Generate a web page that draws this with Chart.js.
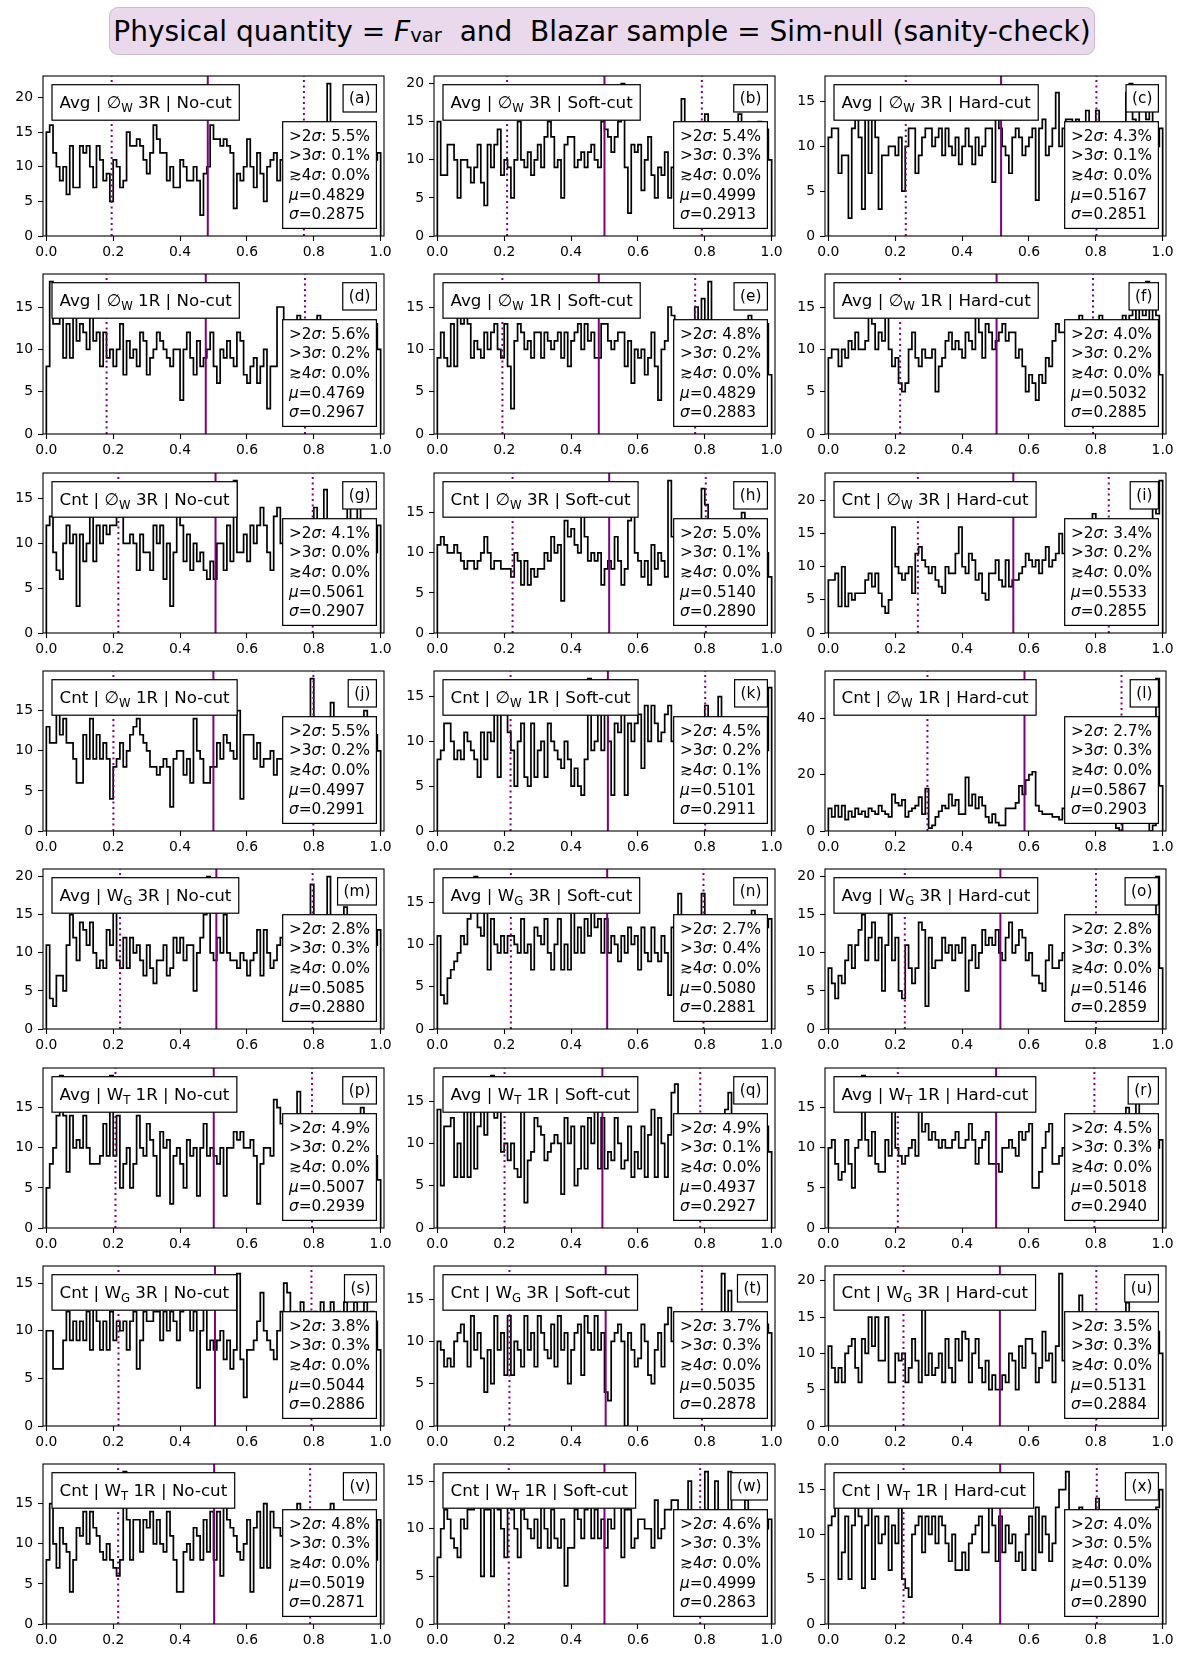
<!DOCTYPE html>
<html>
<head>
<meta charset="utf-8">
<title>Fvar sanity check</title>
<script src="https://cdn.jsdelivr.net/npm/chart.js@4.4.1/dist/chart.umd.min.js"></script>
<style>
  body { margin: 0; background: #fff; width: 1200px; height: 1662px; position: relative; overflow: hidden; font-family: "DejaVu Sans", sans-serif; }
  #title { position: absolute; left: 109px; top: 7px; width: 986px; height: 48px; box-sizing: border-box;
           background: #ead9ec; border: 1.5px solid #cfb9d5; border-radius: 9px;
           display: flex; align-items: center; justify-content: center; font-size: 28px; color: #000; white-space: pre; }
  #title .sub { font-size: 0.7em; position: relative; top: 0.25em; }
  canvas { position: absolute; }
</style>
</head>
<body>
<div id="title">Physical quantity = <i>F</i><span class="sub">var</span>  and  Blazar sample = Sim-null (sanity-check)</div>
<script>
'use strict';

/* =========== Panel texts ================= */
var panelIds = ['a','b','c','d','e','f','g','h','i','j','k','l','m','n','o','p','q','r','s','t','u','v','w','x'];
var rowMethod = ['Avg','Avg','Cnt','Cnt','Avg','Avg','Cnt','Cnt'];
var rowWeight = ['∅','∅','∅','∅','W','W','W','W'];
var rowWeightSub = ['W','W','W','W','G','T','G','T'];
var rowRing = ['3R','1R','3R','1R','3R','1R','3R','1R'];
var colCut = ['No-cut','Soft-cut','Hard-cut'];
var xTickValues = [0, 0.2, 0.4, 0.6, 0.8, 1.0];

/* =========== Stats per panel (a..x) ================= */
var over2 = [5.5,5.4,4.3, 5.6,4.8,4.0, 4.1,5.0,3.4, 5.5,4.5,2.7, 2.8,2.7,2.8, 4.9,4.9,4.5, 3.8,3.7,3.5, 4.8,4.6,4.0];
var over3 = [0.1,0.3,0.1, 0.2,0.2,0.2, 0.0,0.1,0.2, 0.2,0.2,0.3, 0.3,0.4,0.3, 0.2,0.1,0.3, 0.3,0.3,0.3, 0.3,0.3,0.5];
var over4 = [0.0,0.0,0.0, 0.0,0.0,0.0, 0.0,0.0,0.0, 0.0,0.1,0.0, 0.0,0.0,0.0, 0.0,0.0,0.0, 0.0,0.0,0.0, 0.0,0.0,0.0];
var muVals = [0.4829,0.4999,0.5167, 0.4769,0.4829,0.5032, 0.5061,0.5140,0.5533, 0.4997,0.5101,0.5867,
              0.5085,0.5080,0.5146, 0.5007,0.4937,0.5018, 0.5044,0.5035,0.5131, 0.5019,0.4999,0.5139];
var sigmaVals = [0.2875,0.2913,0.2851, 0.2967,0.2883,0.2885, 0.2907,0.2890,0.2855, 0.2991,0.2911,0.2903,
                 0.2880,0.2881,0.2859, 0.2939,0.2927,0.2940, 0.2886,0.2878,0.2884, 0.2871,0.2863,0.2890];

/* =========== Histogram counts, 100 bins on [0,1] ================= */
var histA = [15,16,12,10,8,10,6,13,7,7, 13,12,13,10,7,13,11,8,9,5, 11,10,7,8,15,13,13,14,13,11, 9,12,16,14,12,12,8,10,7,7,
             11,10,8,8,10,8,3,9,10,16, 14,14,13,14,13,12,4,9,8,10, 14,10,7,12,9,5,10,11,12,8, 11,12,9,10,11,13,10,9,10,11,
             12,9,10,13,22,11,10,12,9,11, 13,10,12,9,11,10,12,9,11,12];
var histB = [15,8,8,12,12,10,5,10,10,9, 7,9,12,7,4,12,9,12,14,8, 10,9,5,10,15,10,9,11,8,10, 12,9,13,15,13,9,10,5,12,13,
             13,9,10,11,9,11,12,10,9,15, 14,13,11,13,15,20,9,3,12,11, 12,6,10,13,8,5,9,8,11,5, 9,7,13,18,12,10,9,11,8,10,
             16,11,9,12,10,8,13,11,10,12, 16,9,12,11,10,13,15,11,14,10];
var histC = [11,12,12,7,9,9,2,12,13,11, 3,15,7,13,11,3,9,9,10,10, 9,11,5,10,12,12,7,9,11,12, 12,10,11,12,9,12,10,9,11,8,
             10,12,10,8,11,9,10,12,12,6, 13,12,10,9,7,11,12,11,9,10, 11,12,4,12,13,9,10,12,16,10, 12,13,13,12,13,10,11,14,10,9,
             14,11,10,12,9,11,10,12,11,16, 17,13,12,14,16,13,15,12,10,12];
var histD = [8,18,13,13,14,9,13,9,14,11, 13,12,10,14,11,12,8,12,9,10, 8,10,13,7,11,9,10,8,12,11, 7,9,10,12,11,10,9,8,10,10,
             4,10,12,9,7,11,8,9,10,12, 8,6,10,9,11,9,8,12,11,7, 6,8,9,6,8,10,3,8,8,15, 15,12,10,11,13,14,10,12,9,11,
             13,14,11,10,12,9,12,13,10,11, 9,12,11,13,10,8,12,11,13,10];
var histE = [9,12,9,8,13,8,14,13,15,13, 9,11,10,9,12,10,12,13,10,9, 13,8,3,11,13,12,10,11,9,12, 12,9,12,11,10,11,12,9,12,8,
             11,12,13,10,13,11,12,9,9,13, 13,11,10,11,12,12,8,11,6,10, 9,10,7,9,12,8,4,10,11,15, 14,12,11,10,13,12,11,15,10,16,
             12,18,11,13,10,12,11,9,13,12, 10,12,11,14,10,12,9,11,13,7];
var histF = [9,10,10,8,10,9,11,10,12,10, 10,11,15,13,10,12,11,15,10,8, 9,6,5,6,10,12,9,8,10,9, 9,10,5,8,9,11,12,10,11,10,
             9,12,11,10,14,12,9,13,12,10, 11,12,13,11,12,12,9,10,8,5, 7,6,4,7,6,9,8,11,13,12, 12,11,13,12,10,14,11,12,13,10,
             12,14,11,13,12,10,13,12,14,11, 14,15,13,15,14,18,13,15,14,7];
var histG = [12,13,9,7,6,10,12,10,11,3, 11,8,10,13,8,12,10,12,11,12, 12,13,13,10,10,11,10,7,11,9, 9,7,12,10,12,6,10,3,9,13,
             12,8,11,7,10,8,9,7,6,8, 6,10,10,7,12,8,17,9,9,11, 8,12,10,12,14,12,9,7,13,14, 10,9,11,8,11,10,9,11,10,11,
             14,11,10,16,11,9,11,10,11,9, 15,11,10,14,11,9,11,10,9,12];
var histH = [11,12,11,10,10,11,10,9,8,9, 9,8,9,10,12,10,8,9,9,8, 8,8,7,10,9,6,9,6,8,7, 8,8,10,9,12,10,11,4,14,12,
             13,11,10,15,12,9,10,9,10,6, 8,9,8,12,9,6,8,14,16,10, 9,7,9,6,11,8,10,9,7,19, 12,10,11,9,12,11,10,13,9,18,
             16,12,10,11,9,13,12,10,11,12, 13,15,11,10,12,9,11,13,10,7];
var histI = [8,8,9,4,10,4,6,5,6,6, 6,8,9,7,9,6,4,3,5,16, 10,9,8,9,10,6,12,13,11,10, 9,10,8,7,6,10,9,9,12,16,
             10,9,12,11,8,9,6,5,9,9, 11,8,7,11,7,8,8,9,10,12, 11,10,11,9,11,13,10,11,12,15, 12,11,13,10,14,12,11,13,12,18,
             13,12,11,14,12,13,11,12,14,13, 12,14,13,12,15,13,14,20,18,23];
var histJ = [13,11,11,15,12,14,11,11,9,6, 6,12,9,14,9,12,9,11,9,4, 8,9,11,8,10,12,13,14,12,11, 10,8,8,7,8,9,8,3,9,10,
             10,7,9,6,14,10,9,6,6,8, 8,11,9,12,11,10,9,15,4,12, 12,12,9,11,8,9,9,10,7,9, 9,11,8,10,12,9,11,10,8,19,
             10,12,9,11,12,16,10,9,11,12, 10,11,9,12,10,15,11,9,12,10];
var histK = [8,9,12,12,10,8,9,8,11,10, 9,8,6,11,8,11,10,13,6,14, 13,11,9,5,10,12,6,5,12,6, 9,10,6,12,10,9,8,7,10,8,
             5,7,5,4,8,17,9,10,13,9, 13,10,4,12,11,14,4,12,10,12, 13,7,14,10,14,12,10,11,13,14, 10,11,9,11,10,11,9,11,10,11,
             14,10,11,9,15,11,10,11,9,11, 10,11,11,9,11,10,11,11,9,16];
var histL = [8,5,9,5,9,4,7,5,8,6, 7,5,8,7,6,9,7,6,5,13, 10,9,11,5,7,8,9,12,6,15, 1,2,5,7,9,8,13,9,11,6,
             6,19,9,13,8,12,9,5,3,6, 3,2,2,8,8,8,10,16,13,18, 20,21,9,7,6,6,6,5,5,4, 8,7,9,8,6,7,8,9,7,8,
             6,7,8,9,7,6,1,0,6,9, 7,8,6,5,6,3,0,2,54,16];
var histM = [11,4,3,7,7,5,11,15,12,9, 14,13,11,14,10,8,9,8,13,11, 16,9,8,12,8,12,10,11,9,7, 11,8,6,9,9,11,7,8,12,10,
             12,9,11,11,5,10,12,15,20,10, 9,12,10,15,10,9,9,8,10,9, 7,9,10,13,7,13,10,8,9,11, 12,10,11,13,12,10,11,12,14,19,
             12,13,11,10,20,12,11,13,12,16, 13,12,11,14,12,10,13,12,11,13];
var histN = [11,4,3,6,7,8,9,11,10,13, 14,18,12,11,14,7,13,10,9,11, 9,11,11,10,9,13,9,10,7,12, 11,10,13,9,7,10,13,7,10,7,
             15,9,12,9,13,11,15,12,13,9, 13,9,11,10,8,11,9,12,10,11, 7,12,9,8,12,9,8,11,9,4, 12,10,16,11,12,13,10,12,11,16,
             12,10,13,11,12,10,13,11,12,10, 11,10,12,11,14,12,10,11,12,13];
var histO = [8,6,4,7,6,9,11,8,11,13, 15,9,12,14,9,12,5,11,15,9, 12,5,4,11,8,6,8,14,13,3, 12,8,9,9,12,10,11,9,11,10,
             12,5,9,11,8,10,13,11,12,11, 13,10,9,12,14,10,11,13,12,9, 10,7,7,6,5,9,11,8,8,9, 10,12,11,13,10,12,11,13,12,10,
             12,11,10,13,12,11,10,12,11,13, 12,10,11,12,13,11,12,10,20,8];
var histP = [5,8,10,14,19,14,7,14,10,11, 10,14,10,8,8,8,9,13,9,19, 9,14,5,8,10,5,8,14,10,9, 13,11,9,4,12,10,11,3,9,10,
             8,5,11,9,10,4,10,13,9,10, 9,8,10,4,10,10,12,11,12,10, 10,11,9,3,8,10,10,9,16,15, 13,12,11,10,12,17,11,12,10,13,
             11,12,10,13,12,11,10,12,11,13, 12,11,10,12,15,11,12,10,9,6];
var histQ = [14,5,12,12,13,6,10,6,15,6, 14,7,12,14,11,14,18,13,14,9, 10,8,10,7,6,14,3,8,9,13, 12,11,8,9,10,11,10,4,13,10,
             12,5,7,12,7,13,10,15,7,13, 7,9,8,13,10,7,8,12,6,9, 7,12,6,11,14,6,13,10,6,11, 16,17,12,11,10,12,13,11,13,10,
             12,11,13,10,12,11,14,16,12,11, 13,10,12,11,13,12,10,11,12,9];
var histR = [10,11,8,6,7,11,8,5,10,11, 19,11,9,12,8,7,7,11,9,15, 10,9,8,9,10,11,9,15,12,13, 11,12,11,10,11,10,10,11,12,10,
             10,11,13,11,8,10,11,12,8,8, 8,7,10,10,11,10,9,12,11,12, 13,5,5,7,10,12,13,8,8,9, 10,11,12,10,13,11,12,10,11,12,
             11,13,10,12,11,10,12,11,13,15, 12,14,16,13,12,11,13,12,10,11];
var histS = [10,10,6,6,6,9,12,9,11,9, 11,9,12,8,13,11,8,11,8,12, 9,11,10,11,8,11,12,6,9,12, 11,11,12,12,9,12,10,12,11,9,
             12,13,13,10,12,4,10,14,8,9, 8,9,10,7,9,6,8,16,7,3, 8,8,9,11,14,10,9,8,7,10, 12,15,14,11,12,10,13,11,12,10,
             12,11,13,10,12,13,11,12,10,13, 11,12,13,11,12,13,10,12,11,8];
var histT = [10,9,7,8,7,10,11,12,10,7, 13,9,11,8,4,9,5,13,9,11, 6,13,6,10,9,7,13,9,11,7, 13,11,9,8,12,7,13,9,11,5,
             9,11,12,6,13,11,9,13,9,11, 4,3,10,11,12,10,0,11,9,7, 8,12,10,6,5,9,11,7,12,14, 10,12,11,13,12,11,10,12,13,11,
             13,12,11,10,12,18,13,16,12,11, 13,10,12,11,13,12,11,10,12,11];
var histU = [11,8,6,8,6,10,11,12,8,6, 12,10,15,11,15,9,9,15,6,6, 10,9,10,6,8,12,9,6,20,7, 10,7,8,10,6,12,8,6,12,9,
             13,12,6,10,12,8,6,9,5,7, 5,5,7,6,10,9,5,11,8,12, 12,10,6,8,13,9,10,6,11,21, 9,12,11,13,12,18,11,12,13,10,
             12,11,13,12,10,13,11,12,10,17, 12,13,11,12,13,10,12,11,13,10];
var histV = [8,15,10,7,12,10,9,4,8,12, 11,14,10,14,12,11,9,8,10,8, 7,6,8,19,13,8,13,13,9,13, 12,14,10,13,10,9,14,11,8,4,
             4,9,10,8,12,11,8,13,9,14, 8,14,6,15,13,12,11,9,8,10, 13,4,12,14,7,15,7,14,12,12, 11,6,10,12,11,15,10,12,11,13,
             12,10,11,13,12,15,11,10,12,13, 11,12,10,13,11,12,10,11,8,13];
var histW = [7,10,12,11,9,8,7,11,10,12, 12,14,13,5,12,12,5,13,12,10, 7,13,12,10,7,12,11,10,9,11, 8,13,10,8,12,9,8,11,4,8,
             8,12,11,9,12,13,9,12,9,11, 8,11,10,14,13,7,12,12,8,9, 11,11,10,10,8,13,9,10,12,12, 13,13,11,10,9,15,11,10,8,11,
             16,10,9,15,11,10,9,16,10,11, 9,11,13,10,11,9,10,11,10,11];
var histX = [11,12,13,5,8,12,5,11,13,12, 4,11,13,5,12,9,10,12,6,11, 9,13,5,4,3,10,11,12,8,12, 10,12,9,12,11,9,7,10,6,6,
             8,6,9,10,11,12,8,8,13,11, 7,12,8,11,9,10,7,8,6,10, 12,6,13,8,12,10,7,9,13,15, 15,17,11,10,12,13,10,11,9,12,
             14,10,11,9,12,10,11,9,12,10, 11,10,12,9,11,10,12,11,13,15];
var hists = [histA,histB,histC,histD,histE,histF,histG,histH,histI,histJ,histK,histL,
             histM,histN,histO,histP,histQ,histR,histS,histT,histU,histV,histW,histX];

/* =========== Layout ================= */
var colSpineLeft = [43, 434, 825];
var firstRowTop = 76, rowStep = 198.3;
var axW = 341, axH = 160;
var padL = 44, padT = 14, padR = 14, padB = 30;
var purple = '#800080';
var FONT = '"DejaVu Sans", sans-serif';

Chart.defaults.font.family = FONT;
Chart.defaults.color = '#000';

function partsWidth(ctx, parts, size) {
	var w = 0;
	parts.forEach(function (p) {
		ctx.font = (p.it ? 'italic ' : '') + (p.sub ? size * 0.7 : size) + 'px ' + FONT;
		w += ctx.measureText(p.t).width;
	});
	return w;
}

function drawParts(ctx, parts, x, y, size) {
	parts.forEach(function (p) {
		var s = p.sub ? size * 0.7 : size;
		ctx.font = (p.it ? 'italic ' : '') + s + 'px ' + FONT;
		ctx.fillText(p.t, x, y + (p.sub ? size * 0.22 : 0));
		x += ctx.measureText(p.t).width;
	});
}

function box(ctx, x, y, w, h) {
	ctx.fillStyle = '#fff';
	ctx.fillRect(x, y, w, h);
	ctx.strokeStyle = '#000';
	ctx.lineWidth = 1.2;
	ctx.strokeRect(x, y, w, h);
	ctx.fillStyle = '#000';
}

/* =========== Frame + text boxes drawn over each panel ================= */
function decorPlugin(idx) {
	var row = Math.floor(idx / 3), col = idx % 3;
	return {
		id: 'decor' + idx,
		afterDraw: function (chart) {
			var ctx = chart.ctx, a = chart.chartArea;
			ctx.save();
			ctx.strokeStyle = '#000';
			ctx.lineWidth = 1.1;
			ctx.strokeRect(a.left, a.top, a.right - a.left, a.bottom - a.top);
			ctx.textBaseline = 'alphabetic';
			ctx.textAlign = 'left';

			// label box, top left
			var lsz = 16.7;
			var lparts = [{t: rowMethod[row] + ' | ' + rowWeight[row]}, {t: rowWeightSub[row], sub: true},
			              {t: ' ' + rowRing[row] + ' | ' + colCut[col]}];
			var lw = partsWidth(ctx, lparts, lsz) + 15, lh = 35.5;
			var lx = a.left + 9, ly = a.top + 8.7;
			box(ctx, lx, ly, lw, lh);
			drawParts(ctx, lparts, lx + 7.5, ly + lh / 2 + lsz * 0.33, lsz);

			// panel letter, top right
			var psz = 15.3;
			var ptxt = [{t: '(' + panelIds[idx] + ')'}];
			var pw = partsWidth(ctx, ptxt, psz) + 12, ph = 27.3;
			var px = a.right - 7.6 - pw, py = a.top + 8.7;
			box(ctx, px, py, pw, ph);
			drawParts(ctx, ptxt, px + 6, py + ph / 2 + psz * 0.33, psz);

			// stats box, bottom right
			var ssz = 15.3;
			var lines = [
				[{t: '>2'}, {t: 'σ', it: true}, {t: ': ' + over2[idx].toFixed(1) + '%'}],
				[{t: '>3'}, {t: 'σ', it: true}, {t: ': ' + over3[idx].toFixed(1) + '%'}],
				[{t: '≳4'}, {t: 'σ', it: true}, {t: ': ' + over4[idx].toFixed(1) + '%'}],
				[{t: 'μ', it: true}, {t: '=' + muVals[idx].toFixed(4)}],
				[{t: 'σ', it: true}, {t: '=' + sigmaVals[idx].toFixed(4)}]
			];
			var sw = 0;
			lines.forEach(function (l) { sw = Math.max(sw, partsWidth(ctx, l, ssz)); });
			sw += 12.6;
			var sh = 106.7;
			var sx = a.right - 7.6 - sw, sy = a.bottom - 7.6 - sh;
			box(ctx, sx, sy, sw, sh);
			lines.forEach(function (l, k) {
				drawParts(ctx, l, sx + 6.3, sy + 13.5 + k * 19.6 + ssz * 0.36, ssz);
			});
			ctx.restore();
		}
	};
}

/* =========== Build the 24 histograms ================= */
panelIds.forEach(function (pid, idx) {
	var row = Math.floor(idx / 3), col = idx % 3;
	var counts = hists[idx];
	var yTop = Math.max.apply(null, counts) * 1.05;
	var yStep = yTop > 40 ? 20 : 5;

	var canvas = document.createElement('canvas');
	canvas.width = padL + axW + padR;
	canvas.height = padT + axH + padB;
	canvas.style.left = (colSpineLeft[col] - padL) + 'px';
	canvas.style.top = (Math.round(firstRowTop + row * rowStep) - padT) + 'px';
	document.body.appendChild(canvas);

	var histPts = [{x: 0, y: 0}];
	counts.forEach(function (c, i) { histPts.push({x: i / counts.length, y: c}); });
	histPts.push({x: 1, y: 0});

	var mu = muVals[idx], sg = sigmaVals[idx];
	function vline(xv, dash) {
		return {
			data: [{x: xv, y: 0}, {x: xv, y: yTop}],
			borderColor: purple, borderWidth: 2, borderDash: dash, order: 0
		};
	}

	new Chart(canvas, {
		type: 'line',
		data: {
			datasets: [
				vline(mu, []),
				vline(mu - sg, [2.1, 3.4]),
				vline(mu + sg, [2.1, 3.4]),
				{ data: histPts, borderColor: '#000', borderWidth: 1.7, stepped: true, order: 1,
				  borderJoinStyle: 'miter' }
			]
		},
		options: {
			responsive: false,
			animation: false,
			events: [],
			layout: { padding: { left: 0, top: padT, right: padR, bottom: 0 } },
			elements: { point: { radius: 0 }, line: { tension: 0, fill: false } },
			plugins: { legend: { display: false }, tooltip: { enabled: false } },
			scales: {
				x: {
					type: 'linear', min: -0.01, max: 1.01,
					afterFit: function (s) { s.height = padB; },
					afterBuildTicks: function (s) { s.ticks = xTickValues.map(function (v) { return {value: v}; }); },
					ticks: { autoSkip: false, maxRotation: 0, padding: 3, font: { size: 13.9 },
					         callback: function (v) { return v.toFixed(1); } },
					grid: { drawOnChartArea: false, drawTicks: true, tickLength: 5, tickWidth: 1.1, tickColor: '#000' },
					border: { display: false }
				},
				y: {
					type: 'linear', min: 0, max: yTop,
					afterFit: function (s) { s.width = padL; },
					afterBuildTicks: function (s) {
						var t = [];
						for (var v = 0; v <= yTop; v += yStep) t.push({value: v});
						s.ticks = t;
					},
					ticks: { padding: 5, font: { size: 13.9 }, callback: function (v) { return String(v); } },
					grid: { drawOnChartArea: false, drawTicks: true, tickLength: 5, tickWidth: 1.1, tickColor: '#000' },
					border: { display: false }
				}
			}
		},
		plugins: [decorPlugin(idx)]
	});
});
</script>
</body>
</html>
